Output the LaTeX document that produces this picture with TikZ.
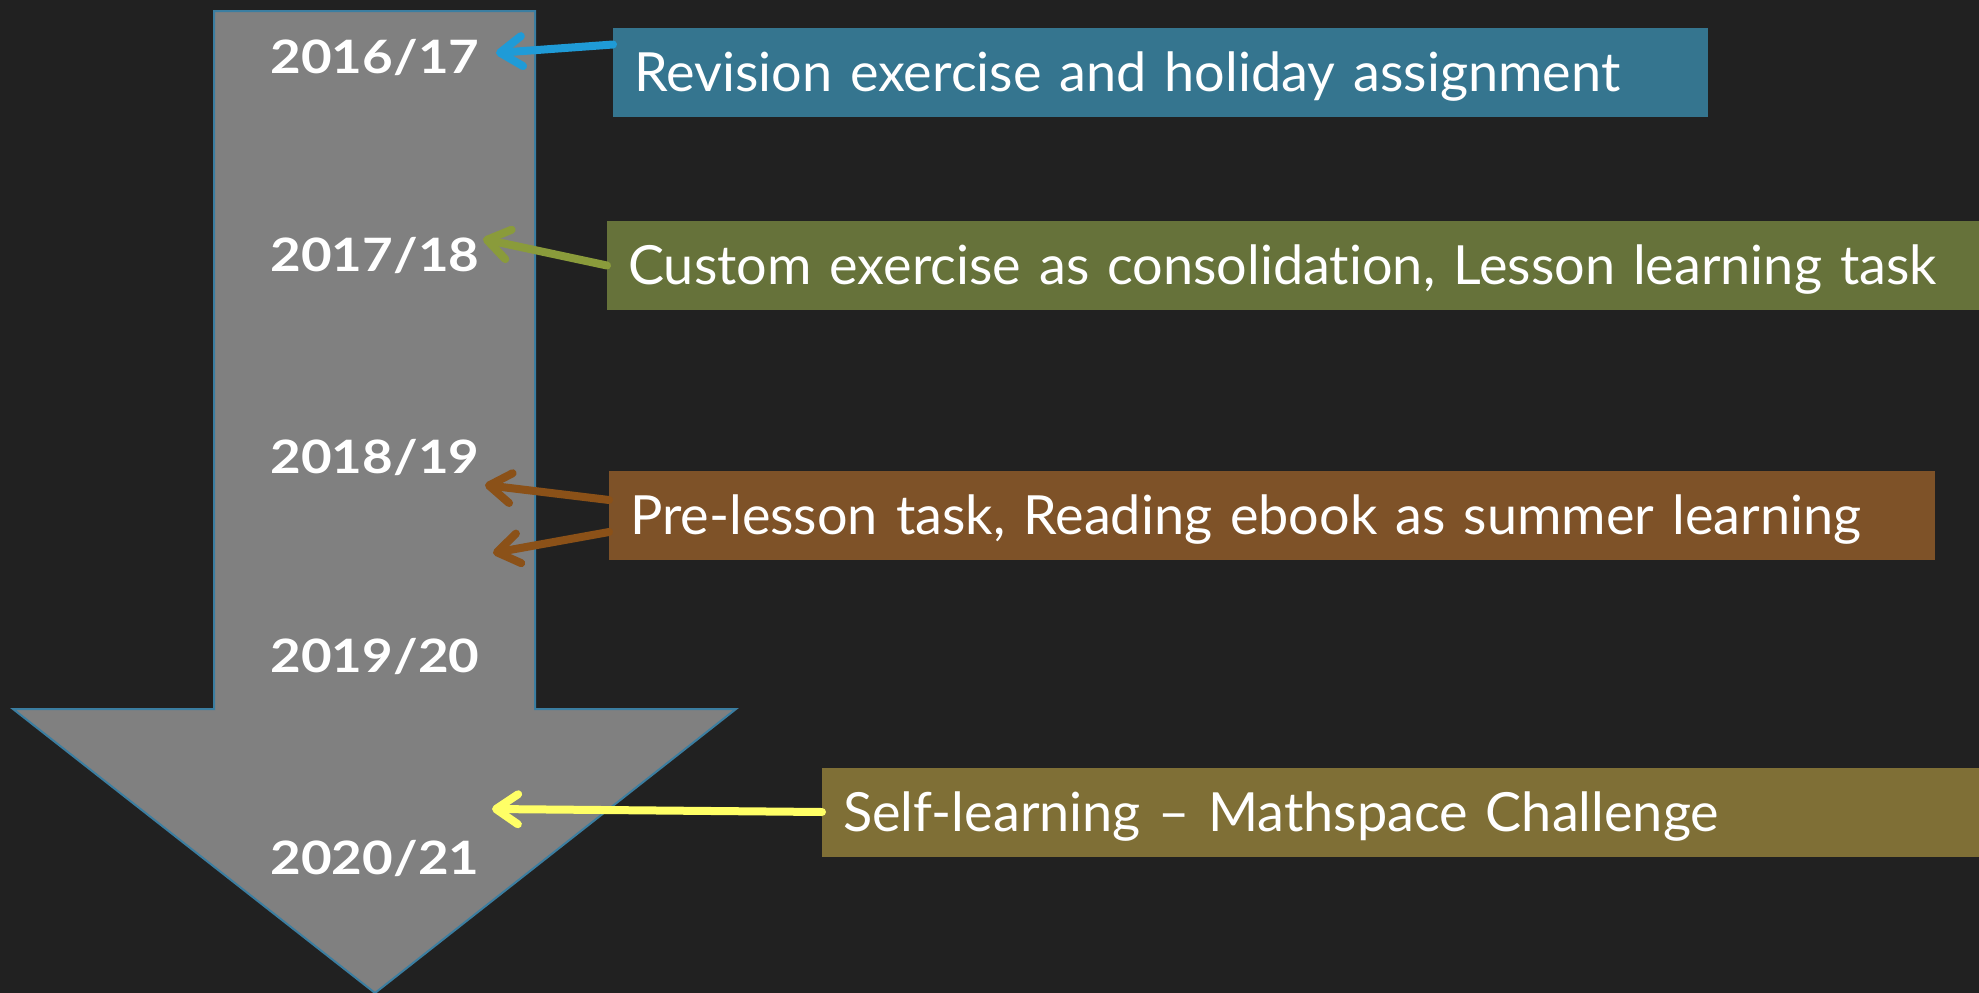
\documentclass[tikz,border=0pt]{standalone}
\usepackage{fontspec}
\setmainfont{Lato}[Ligatures={NoCommon}]
\usetikzlibrary{arrows.meta}
\definecolor{bgc}{HTML}{212121}
\definecolor{grayarrow}{HTML}{808080}
\definecolor{outl}{HTML}{3B7EA1}
\definecolor{blueBox}{HTML}{35758F}
\definecolor{greenBox}{HTML}{66723A}
\definecolor{brownBox}{HTML}{7E5228}
\definecolor{oliveBox}{HTML}{7F6F36}
\definecolor{blueArr}{HTML}{1F9BD7}
\definecolor{greenArr}{HTML}{8A9B3B}
\definecolor{brownArr}{HTML}{8B5118}
\definecolor{yellowArr}{HTML}{FFFF66}
\newcommand{\yr}[1]{\scalebox{1.15}[1]{#1}}
\tikzset{
  yearlbl/.style={text=white, font=\fontsize{46}{50}\selectfont\bfseries, inner sep=0pt},
  infobox/.style={anchor=west, text=white, font=\fontsize{54}{58}\selectfont,
    minimum height=89pt, inner xsep=21pt, inner ysep=0pt, align=left,
    text height=38pt, text depth=0pt},
  link/.style={line width=8pt, line cap=round,
    -{Straight Barb[length=22pt, width=30pt, round]}},
}
\begin{document}
\begin{tikzpicture}[x=1pt, y=-1pt]
\useasboundingbox (0,0) rectangle (1979,993);
\fill[bgc] (0,0) rectangle (1979,993);
% big arrow
\draw[fill=grayarrow, draw=outl, line width=2pt, line join=miter]
  (214,11) -- (535,11) -- (535,709) -- (736,709) -- (375,993) -- (13,709) -- (214,709) -- cycle;
% years
\node[yearlbl] (y1) at (375,58) {\yr{2016/17}};
\node[yearlbl] (y2) at (375,256) {\yr{2017/18}};
\node[yearlbl] (y3) at (375,457) {\yr{2018/19}};
\node[yearlbl] (y4) at (375,656) {\yr{2019/20}};
\node[yearlbl] (y5) at (375,858) {\yr{2020/21}};
% boxes
\node[infobox, fill=blueBox, minimum width=1095pt, text width=1053pt] (b1) at (613,72.5) {Revision exercise and holiday assignment};
\node[infobox, fill=greenBox, minimum width=1390pt, text width=1348pt] (b2) at (607,265.5) {Custom exercise as consolidation, Lesson learning task};
\node[infobox, fill=brownBox, minimum width=1326pt, text width=1284pt] (b3) at (609,515) {Pre-lesson task, Reading ebook as summer learning};
\node[infobox, fill=oliveBox, minimum width=1170pt, text width=1128pt] (b4) at (822,812) {Self-learning -- Mathspace Challenge};
% arrow tips
\coordinate (t1) at (496,53);
\coordinate (t2) at (483,239);
\coordinate (t3a) at (485,485);
\coordinate (t3b) at (493,553);
\coordinate (t4) at (492,809);
\draw[link, blueArr] ([yshift=28pt]b1.west) -- (t1);
\draw[link, greenArr] (b2.west) -- (t2);
\draw[link, brownArr] ([yshift=15pt]b3.west) -- (t3a);
\draw[link, brownArr] ([yshift=-17pt]b3.west) -- (t3b);
\draw[link, yellowArr] (b4.west) -- (t4);
\end{tikzpicture}
\end{document}
